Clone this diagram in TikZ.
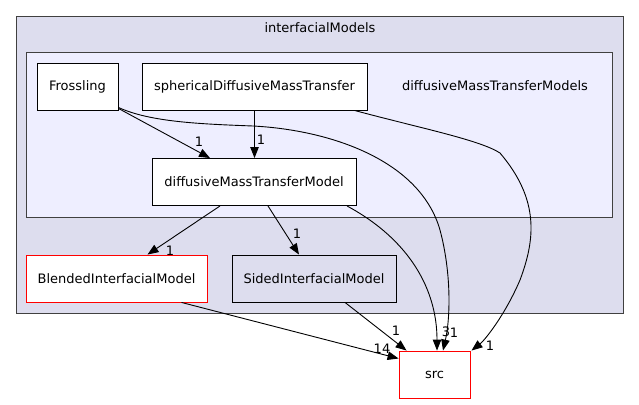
\documentclass[tikz,border=0pt]{standalone}
\usepackage{fontspec}
\setmainfont{DejaVu Sans}
\usetikzlibrary{arrows.meta}
\definecolor{outerfill}{HTML}{DDDDEE}
\definecolor{innerfill}{HTML}{EEEEFF}
\definecolor{clborder}{HTML}{404040}
\tikzset{
  box/.style={draw=black, fill=white, line width=0.9pt, inner sep=0pt, minimum height=47pt, font=\fontsize{13}{15}\selectfont},
  redbox/.style={box, draw=red},
  sidedbox/.style={box, fill=outerfill},
  cluster/.style={draw=clborder, line width=0.9pt},
  edge/.style={draw=black, line width=0.9pt, -{Triangle[length=11pt,width=8.5pt]}},
  lbl/.style={inner sep=0pt, font=\fontsize{13}{15}\selectfont},
  ttl/.style={inner sep=0pt, font=\fontsize{13}{15}\selectfont}
}
\begin{document}
\begin{tikzpicture}[x=1pt,y=-1pt]
\useasboundingbox (0,0) rectangle (639,404);
% clusters
\draw[cluster, fill=outerfill] (16,16) rectangle (623,313);
\node[ttl] (outertitle) at (320,28) {interfacialModels};
\draw[cluster, fill=innerfill] (26,52) rectangle (612,217);
\node[ttl] (innertitle) at (495,86) {diffusiveMassTransferModels};
% nodes
\node[box, minimum width=81pt] (fros) at (77.5,86.5) {Frossling};
\node[box, minimum width=225pt] (sph) at (254.5,86.5) {sphericalDiffusiveMassTransfer};
\node[box, minimum width=204pt] (dmt) at (254,182) {diffusiveMassTransferModel};
\node[redbox, minimum width=181pt] (blend) at (116.5,278.5) {BlendedInterfacialModel};
\node[sidedbox, minimum width=164pt] (sided) at (314,278.5) {SidedInterfacialModel};
\node[redbox, minimum width=71pt] (src) at (434.5,374.5) {src};
% edges
\draw[edge] ([yshift=2pt]fros.south east) -- ([xshift=-44pt]dmt.north);
\node[lbl] (l1) at (199,142) {1};
\draw[edge] ([yshift=3pt]fros.south east) .. controls (150,122) and (200,124) .. (253,126)
  .. controls (330,130) and (420,160) .. (440,230)
  .. controls (452,275) and (450,320) .. ([xshift=8.5pt]src.north);
\node[lbl] (l2) at (454,333) {1};
\draw[edge] (sph.south) -- ([xshift=0.5pt]dmt.north);
\node[lbl] (l3) at (261,140) {1};
\draw[edge] ([xshift=100pt]sph.south) .. controls (420,128) and (480,140) .. (500,153)
  .. controls (540,200) and (535,240) .. (520,280)
  .. controls (505,315) and (485,340) .. ([xshift=37pt]src.north);
\node[lbl] (l4) at (490,346) {1};
\draw[edge] ([xshift=-34pt]dmt.south) -- ([xshift=31pt]blend.north);
\node[lbl] (l5) at (170,251) {1};
\draw[edge] ([xshift=14pt]dmt.south) -- ([xshift=-15pt]sided.north);
\node[lbl] (l6) at (297,234) {1};
\draw[edge] ([xshift=93pt]dmt.south) .. controls (410,240) and (437,290) .. ([xshift=2.5pt]src.north);
\node[lbl] (l7) at (446,332) {3};
\draw[edge] ([xshift=65pt]blend.south) -- ([yshift=16pt]src.west);
\node[lbl] (l8) at (382,349) {14};
\draw[edge] ([xshift=31pt]sided.south) -- ([xshift=8pt]src.north west);
\node[lbl] (l9) at (396,331) {1};
\end{tikzpicture}
\end{document}
